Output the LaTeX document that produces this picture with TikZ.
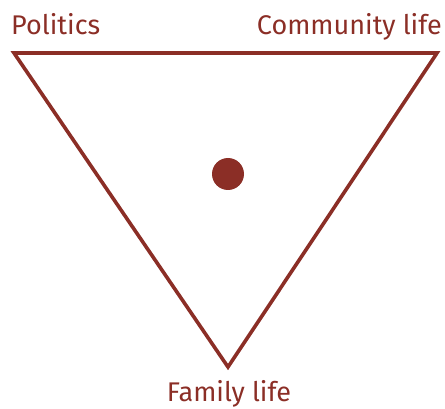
\documentclass[tikz,border=0pt]{standalone}
\usepackage{fontspec}
\setmainfont{Fira Sans}
\definecolor{rust}{HTML}{8B2E26}

\begin{document}
\begin{tikzpicture}[x=1pt,y=-1pt,
  lbl/.style={text=rust,font=\fontsize{27}{30}\selectfont,inner sep=0pt}]

% Fix the frame
\useasboundingbox (0,0) rectangle (445,409);

% Corners of the triangle
\coordinate (pol) at (14,53);
\coordinate (com) at (437,53);
\coordinate (fam) at (228,367);

% Draw the triangle
\draw[rust,line width=3.6pt,line join=miter] (pol) -- (com) -- (fam) -- cycle;

% Draw the dot
\fill[rust] (228,174) circle (16);

% Label the corners
\node[lbl,anchor=base west] (politics) at (11,35) {Politics};
\node[lbl,anchor=base east] (community) at (442,35) {Community life};
\node[lbl,anchor=base] (family) at (229,401) {Family life};

\end{tikzpicture}
\end{document}
